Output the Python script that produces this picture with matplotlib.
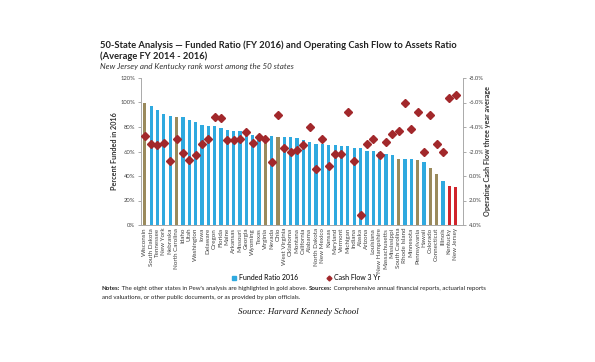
import numpy as np
import matplotlib
matplotlib.use('Agg')
import matplotlib.pyplot as plt
from matplotlib.patches import Patch
from matplotlib.lines import Line2D
from matplotlib.ticker import FuncFormatter

plt.rcParams['font.family'] = ['Lato', 'DejaVu Sans']

states = ['Wisconsin', 'South Dakota', 'Tennessee', 'New York', 'Nebraska', 'North Carolina',
          'Idaho', 'Utah', 'Washington', 'Iowa', 'Delaware', 'Oregon', 'Florida', 'Maine',
          'Arkansas', 'Missouri', 'Georgia', 'Wyoming', 'Texas', 'Virginia', 'Nevada', 'Ohio',
          'West Virginia', 'Oklahoma', 'Montana', 'California', 'Alabama', 'North Dakota',
          'New Mexico', 'Kansas', 'Maryland', 'Vermont', 'Michigan', 'Indiana', 'Alaska',
          'Arizona', 'Louisiana', 'New Hampshire', 'Massachusetts', 'Mississippi',
          'South Carolina', 'Rhode Island', 'Minnesota', 'Pennsylvania', 'Hawaii', 'Colorado',
          'Connecticut', 'Illinois', 'Kentucky', 'New Jersey']

# funded ratio 2016 (%)
funded = [99.3, 97.2, 94.0, 91.0, 89.0, 88.0, 87.8, 86.0, 84.0, 82.0, 81.0, 81.0, 79.0, 77.5,
          77.0, 77.0, 75.6, 73.4, 73.0, 73.0, 72.6, 72.0, 72.0, 72.0, 71.0, 69.6, 67.5, 66.4,
          65.9, 65.3, 65.0, 64.8, 64.2, 63.1, 62.9, 60.7, 60.2, 59.3, 57.7, 57.5, 54.0, 54.0,
          53.7, 52.8, 51.8, 46.3, 41.5, 35.8, 31.7, 31.4]

# operating cash flow, three year average (%)
cashflow = [-3.3, -2.6, -2.5, -2.7, -1.2, -3.0, -1.9, -1.3, -1.7, -2.6, -3.0, -4.8, -4.7, -2.9,
            -2.9, -3.0, -3.6, -2.7, -3.2, -3.0, -1.15, -5.0, -2.3, -1.95, -2.15, -2.5, -4.0, -0.6,
            -3.0, -0.85, -1.8, -1.8, -5.2, -1.2, 3.2, -2.6, -3.05, -1.75, -2.8, -3.4, -3.65,
            -5.95, -3.85, -5.2, -1.95, -5.0, -2.6, -1.95, -6.4, -6.6]

gold_states = ['Wisconsin', 'North Carolina', 'Virginia', 'Ohio', 'South Carolina',
               'Pennsylvania', 'Colorado', 'Connecticut']
red_states = ['Kentucky', 'New Jersey']

BLUE = '#2fa9df'
GOLD = '#9a8a5c'
RED = '#d0242b'
MARK = '#a2282b'

colors = []
for s in states:
    if s in gold_states:
        colors.append(GOLD)
    elif s in red_states:
        colors.append(RED)
    else:
        colors.append(BLUE)

fig = plt.figure(figsize=(5.95, 3.62), dpi=100)
ax = fig.add_axes([141/595, 1-225/362, (463-141)/595, (225-78)/362])
ax2 = ax.twinx()

x = np.arange(len(states))
ax.bar(x, funded, width=0.52, color=colors, zorder=2)
ax2.plot(x, cashflow, 'D', color=MARK, markersize=3.8, zorder=3)

ax.set_ylim(0, 120)
ax.set_yticks(np.arange(0, 121, 20))
ax.yaxis.set_major_formatter(FuncFormatter(lambda v, p: f'{v:.0f}%'))
ax2.set_ylim(4, -8)
ax2.set_yticks(np.arange(-8, 5, 2))
ax2.yaxis.set_major_formatter(FuncFormatter(lambda v, p: f'{v:.1f}%'))
ax.set_xlim(-0.6, 50.15)

ax.set_xticks(x)
ax.set_xticklabels(states, rotation=90, fontsize=4.5, color='#444444')
ax.tick_params(axis='x', length=0, pad=2)
ax.tick_params(axis='y', labelsize=4.2, colors='#888888', labelcolor='#444444', length=2, width=0.5, pad=2)
ax2.tick_params(axis='y', labelsize=4.2, colors='#888888', labelcolor='#444444', length=2, width=0.5, pad=2)

for a in (ax, ax2):
    a.spines['top'].set_visible(False)
    for sp in ('left', 'right', 'bottom'):
        a.spines[sp].set_color('#aaaaaa')
        a.spines[sp].set_linewidth(0.6)

ax.set_ylabel('Percent Funded in 2016', fontsize=5.2, fontweight='bold', color='#333333', labelpad=2)
ax2.set_ylabel('Operating Cash Flow three year average', fontsize=5.2, fontweight='bold',
               color='#333333', labelpad=0.5)

fig.text(100/595, 1-45/362, '50-State Analysis \u2014 Funded Ratio (FY 2016) and Operating Cash Flow to Assets Ratio',
         fontsize=6.75, fontweight='bold', color='#222222', va='center')
fig.text(100/595, 1-56/362, '(Average FY 2014 - 2016)', fontsize=6.75, fontweight='bold',
         color='#222222', va='center')
fig.text(100/595, 1-67/362, 'New Jersey and Kentucky rank worst among the 50 states',
         fontsize=5.8, style='italic', color='#333333', va='center')

handles = [Patch(color=BLUE), Line2D([], [], marker='D', color=MARK, linestyle='none', markersize=2.5)]
fig.legend(handles, ['Funded Ratio 2016', 'Cash Flow 3 Yr'], loc='center',
           bbox_to_anchor=(306/595, 1-278/362), ncol=2, frameon=False, fontsize=5.0,
           handlelength=0.6, handleheight=0.6, handletextpad=0.4, columnspacing=4.2)

# notes, with bold lead-ins
fs = 4.45
t = fig.text(102/595, 1-290/362, 'Notes:', fontsize=fs, fontweight='bold', color='#222222')
t = ax.annotate(" The eight other states in Pew's analysis are highlighted in gold above. ",
                xy=(1, 0), xycoords=t, va='bottom', fontsize=fs, color='#222222', annotation_clip=False)
t = ax.annotate('Sources:', xy=(1, 0), xycoords=t, va='bottom', fontsize=fs, fontweight='bold',
                color='#222222', annotation_clip=False)
ax.annotate(' Comprehensive annual financial reports, actuarial reports', xy=(1, 0), xycoords=t,
            va='bottom', fontsize=fs, color='#222222', annotation_clip=False)
fig.text(102/595, 1-299/362, 'and valuations, or other public documents, or as provided by plan officials.',
         fontsize=fs, color='#222222')

fig.text(298/595, 1-312/362, 'Source: Harvard Kennedy School', fontsize=6.4, style='italic',
         family='Liberation Serif', color='#111111', ha='center', va='center')

fig.savefig('out.png', dpi=100)
